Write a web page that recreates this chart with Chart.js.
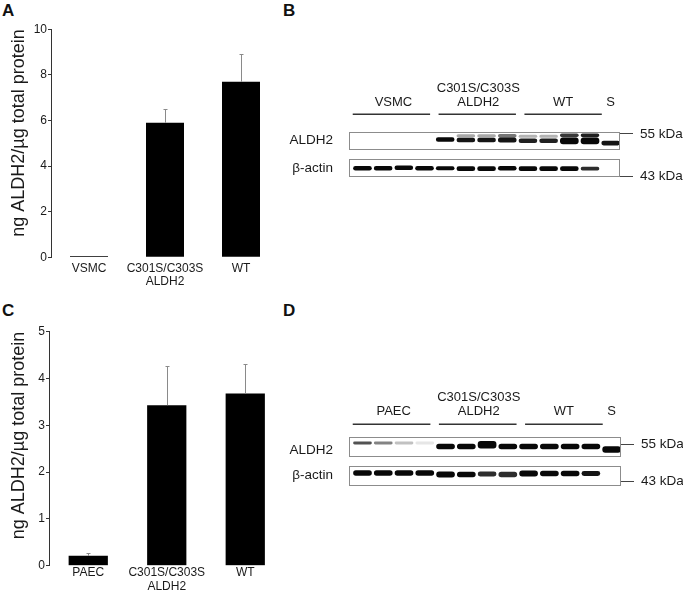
<!DOCTYPE html>
<html><head><meta charset="utf-8">
<script src="https://cdn.jsdelivr.net/npm/chart.js@4.4.1/dist/chart.umd.min.js"></script>
<style>
html,body{margin:0;padding:0;background:#fff;}
body{width:683px;height:596px;position:relative;overflow:hidden;font-family:"Liberation Sans",Arial,sans-serif;}
canvas{position:absolute;}
.lbl{position:absolute;font-weight:bold;font-size:17px;line-height:17px;color:#111;}
</style></head><body>
<div class="lbl" style="left:2px;top:2px">A</div>
<div class="lbl" style="left:283px;top:2px">B</div>
<div class="lbl" style="left:2px;top:302px">C</div>
<div class="lbl" style="left:283px;top:302px">D</div>
<canvas id="cA" width="283" height="300" style="left:0;top:0"></canvas>
<canvas id="cC" width="290" height="296" style="left:0;top:300px"></canvas>
<canvas id="cB" width="413" height="158" style="left:270px;top:50px"></canvas>
<canvas id="cD" width="413" height="156" style="left:270px;top:360px"></canvas>
<script>
// ---------- bar chart data ----------
const yTitle = 'ng ALDH2/µg total protein';
const categoriesA = ['VSMC', ['C301S/C303S', 'ALDH2'], 'WT'];
const valuesA = [0.06, 5.9, 7.7];
const errorsA = [0, 0.6, 1.2];
const categoriesC = ['PAEC', ['C301S/C303S', 'ALDH2'], 'WT'];
const valuesC = [0.21, 3.43, 3.68];
const errorsC = [0.07, 0.84, 0.64];

// ---------- western blot data (lanes 0..12) ----------
const lanes = [0,1,2,3,4,5,6,7,8,9,10,11,12];
const groupsB = ['VSMC', ['C301S/C303S', 'ALDH2'], 'WT', 'S'];
const groupsD = ['PAEC', ['C301S/C303S', 'ALDH2'], 'WT', 'S'];
const groupCenters = [1.5, 5.6, 9.7, 12];
const underlineCenters = [1.4, 5.55, 9.7];
const rowLabels = ['ALDH2', 'β-actin'];
const markerLabels = ['55 kDa', '43 kDa'];

// panel B bands
const aldh2LowCenterB = [8.2,8.2,8.2,8.2, 8.3,8.2,8.2,8.2, 8.0,8.0,8.0,8.0, 7.5];
const aldh2LowThickB  = [1,1,1,1, 1.0,1.0,1.0,1.1, 1.0,1.0,1.5,1.5, 1.0];
const aldh2LowIntB    = [0,0,0,0, 1,0.95,0.95,0.95, 0.9,0.9,1,1, 0.95];
const aldh2UpCenterB  = [9.1,9.1,9.1,9.1, 9.1,9.1,9.1,9.1, 9.0,9.0,9.2,9.2, 9.1];
const aldh2UpThickB   = [0.7,0.7,0.7,0.7, 0.7,0.7,0.7,0.8, 0.7,0.7,0.8,0.8, 0.7];
const aldh2UpIntB     = [0,0,0,0, 0,0.35,0.35,0.55, 0.3,0.3,0.8,0.9, 0];
const actinCenterB    = [2.0,2.0,2.1,2.0, 2.0,1.9,1.9,2.0, 1.9,1.9,1.9,1.9, 2.0];
const actinThickB     = [1.0,1.0,1.0,1.0, 0.9,1.0,1.0,1.0, 1.0,1.0,1.0,0.8, 1.0];
const actinIntB       = [1,1,1,1, 1,1,1,1, 1,1,1,0.85, 0];

// panel D bands
const aldh2CenterD = [8.7,8.7,8.7,8.7, 8.0,8.0,8.35,8.0, 8.0,8.0,8.0,8.0, 7.4];
const aldh2ThickD  = [0.6,0.6,0.6,0.6, 1.1,1.1,1.5,1.1, 1.1,1.1,1.1,1.1, 1.3];
const aldh2IntD    = [0.7,0.5,0.25,0.1, 1,1,1,1, 1,1,1,1, 1];
const actinCenterD = [2.6,2.6,2.6,2.6, 2.3,2.3,2.4,2.3, 2.5,2.5,2.5,2.5, 2.5];
const actinThickD  = [1.1,1.1,1.1,1.1, 1.2,1.1,1.0,1.1, 1.2,1.1,1.1,1.0, 1.0];
const actinIntD    = [1,1,1,1, 1,1,0.85,0.85, 1,1,1,0.95, 0];

const FONT = "'Liberation Sans', Arial, Helvetica, sans-serif";
const TXT = '#1a1a1a';

const errorBars = {
  id: 'errorBars',
  afterDatasetsDraw(chart, args, o) {
    const meta = chart.getDatasetMeta(0), y = chart.scales.y, ctx = chart.ctx;
    const vals = chart.data.datasets[0].data;
    ctx.save(); ctx.strokeStyle = '#8a8a8a'; ctx.lineWidth = 1;
    o.errors.forEach((e, i) => {
      if (!e) return;
      const bx = Math.round(meta.data[i].x) + 0.5;
      const y0 = y.getPixelForValue(vals[i]);
      const y1 = Math.round(y.getPixelForValue(vals[i] + e)) + 0.5;
      ctx.beginPath(); ctx.moveTo(bx, y0); ctx.lineTo(bx, y1);
      ctx.moveTo(bx - 2, y1); ctx.lineTo(bx + 2, y1); ctx.stroke();
    });
    ctx.restore();
  }
};

function barChart(id, cats, vals, errs, cfg) {
  new Chart(document.getElementById(id), {
    type: 'bar',
    data: { labels: cats, datasets: [{ data: vals, backgroundColor: '#000', borderWidth: 0,
      barPercentage: 0.5, categoryPercentage: 1 }] },
    options: {
      animation: false, responsive: false, devicePixelRatio: 1, events: [],
      layout: { padding: { top: cfg.top, right: cfg.right, left: 0, bottom: 0 } },
      plugins: { legend: { display: false }, tooltip: { enabled: false }, errorBars: { errors: errs } },
      scales: {
        x: {
          afterFit: s => { s.height = cfg.xH; },
          grid: { display: false, drawTicks: false }, border: { display: false },
          ticks: { color: TXT, padding: cfg.xPad, autoSkip: false, maxRotation: 0, minRotation: 0,
            font: { family: FONT, size: 12, lineHeight: 1.15 } }
        },
        y: {
          min: 0, max: cfg.max,
          afterFit: s => { s.width = cfg.yW; },
          grid: { display: true, drawOnChartArea: false, drawTicks: true, tickLength: 3, color: '#333' },
          border: { display: true, color: '#333', width: 1 },
          ticks: { stepSize: cfg.step, color: TXT, padding: 1, font: { family: FONT, size: 12 } },
          title: { display: true, text: yTitle, align: 'end', color: TXT,
            padding: { top: 8, bottom: 0 }, font: { family: FONT, size: 18 } }
        }
      }
    },
    plugins: [errorBars]
  });
}

barChart('cA', categoriesA, valuesA, errorsA, { top: 29.3, right: 4, xH: 42.7, yW: 51, max: 10, step: 2, xPad: 4 });
barChart('cC', categoriesC, valuesC, errorsC, { top: 31.7, right: 5.5, xH: 30.3, yW: 49, max: 5, step: 1, xPad: 0 });

const blotDecor = {
  id: 'blotDecor',
  beforeDatasetsDraw(chart) { chart.ctx.save(); chart.ctx.filter = 'blur(0.6px)'; },
  afterDatasetsDraw(chart, args, o) {
    const ctx = chart.ctx; ctx.restore();
    const x = chart.scales.x, y = chart.scales.y;
    ctx.save();
    ctx.strokeStyle = '#8c8c8c'; ctx.lineWidth = 1;
    const L = Math.round(x.left), R = Math.round(x.right);
    o.frames.forEach(([lo, hi]) => {
      const t = Math.round(y.getPixelForValue(hi)) + 0.5;
      const b = Math.round(y.getPixelForValue(lo)) - 0.5;
      ctx.strokeRect(L + 0.5, t, R - L - 1, b - t);
    });
    ctx.strokeStyle = '#333'; ctx.lineWidth = 1.6;
    const uy = chart.chartArea.top - o.underlineOffset;
    underlineCenters.forEach(c => {
      ctx.beginPath();
      ctx.moveTo(x.getPixelForValue(c - 1.87), uy);
      ctx.lineTo(x.getPixelForValue(c + 1.87), uy);
      ctx.stroke();
    });
    ctx.restore();
  }
};

function bandSet(centers, thick, intens) {
  return {
    data: lanes.map(i => ({ x: i, y: [centers[i] - thick[i] / 2, centers[i] + thick[i] / 2] })),
    backgroundColor: intens.map(v => `rgba(8,8,8,${v})`),
    grouped: false, barPercentage: 0.9, categoryPercentage: 1,
    borderWidth: 0, borderRadius: 3, borderSkipped: false
  };
}

function blotChart(id, groups, bands, cfg) {
  new Chart(document.getElementById(id), {
    type: 'bar',
    data: { datasets: bands },
    options: {
      animation: false, responsive: false, devicePixelRatio: 1, events: [],
      layout: { autoPadding: false, padding: 0 },
      plugins: { legend: { display: false }, tooltip: { enabled: false },
        blotDecor: { frames: [[5.9, 10], [0, 4]], underlineOffset: cfg.underline } },
      scales: {
        x: {
          type: 'linear', position: 'top', min: -0.65, max: 12.45, offset: false,
          afterFit: s => { s.height = cfg.topH; },
          afterBuildTicks: s => { s.ticks = groupCenters.map(v => ({ value: v })); },
          grid: { display: false, drawTicks: false, offset: false }, border: { display: false },
          ticks: { callback: (v, i) => groups[i], autoSkip: false, maxRotation: 0, minRotation: 0,
            padding: cfg.labelPad, color: TXT, font: { family: FONT, size: 13, lineHeight: 1.1 } }
        },
        xb: {
          type: 'linear', position: 'bottom', min: -0.65, max: 12.45, offset: false,
          afterFit: s => { s.height = cfg.padBottom; },
          grid: { display: false, drawTicks: false }, border: { display: false },
          ticks: { display: false }
        },
        y: {
          type: 'linear', position: 'left', min: 0, max: 10,
          afterFit: s => { s.width = 79; },
          afterBuildTicks: s => { s.ticks = cfg.rowPos.map(v => ({ value: v })); },
          grid: { display: true, drawOnChartArea: false, drawTicks: true, tickLength: 16, color: 'rgba(0,0,0,0)' },
          border: { display: false },
          ticks: { callback: (v, i) => rowLabels[i], padding: 0, color: TXT,
            font: { family: FONT, size: 13.5 } }
        },
        y2: {
          type: 'linear', position: 'right', min: 0, max: 10,
          afterFit: s => { s.width = cfg.rightW; },
          afterBuildTicks: s => { s.ticks = cfg.markPos.map(v => ({ value: v })); },
          grid: { display: true, drawOnChartArea: false, drawTicks: true, tickLength: 13, color: '#444', lineWidth: 1 },
          border: { display: false },
          ticks: { callback: (v, i) => markerLabels[i], padding: 7, color: TXT,
            font: { family: FONT, size: 13.5 } }
        }
      }
    },
    plugins: [blotDecor]
  });
}

blotChart('cB', groupsB, [
  bandSet(aldh2UpCenterB, aldh2UpThickB, aldh2UpIntB),
  bandSet(aldh2LowCenterB, aldh2LowThickB, aldh2LowIntB),
  bandSet(actinCenterB, actinThickB, actinIntB)
], { topH: 81.7, padBottom: 30.7, rightW: 63, labelPad: 22, underline: 17.4,
     rowPos: [8.18, 2.04], markPos: [9.5, 0.13] });

blotChart('cD', groupsD, [
  bandSet(aldh2CenterD, aldh2ThickD, aldh2IntD),
  bandSet(actinCenterD, actinThickD, actinIntD)
], { topH: 76.7, padBottom: 30.2, rightW: 62, labelPad: 18, underline: 12.4,
     rowPos: [7.3, 2.06], markPos: [8.47, 0.84] });
</script>
</body></html>
